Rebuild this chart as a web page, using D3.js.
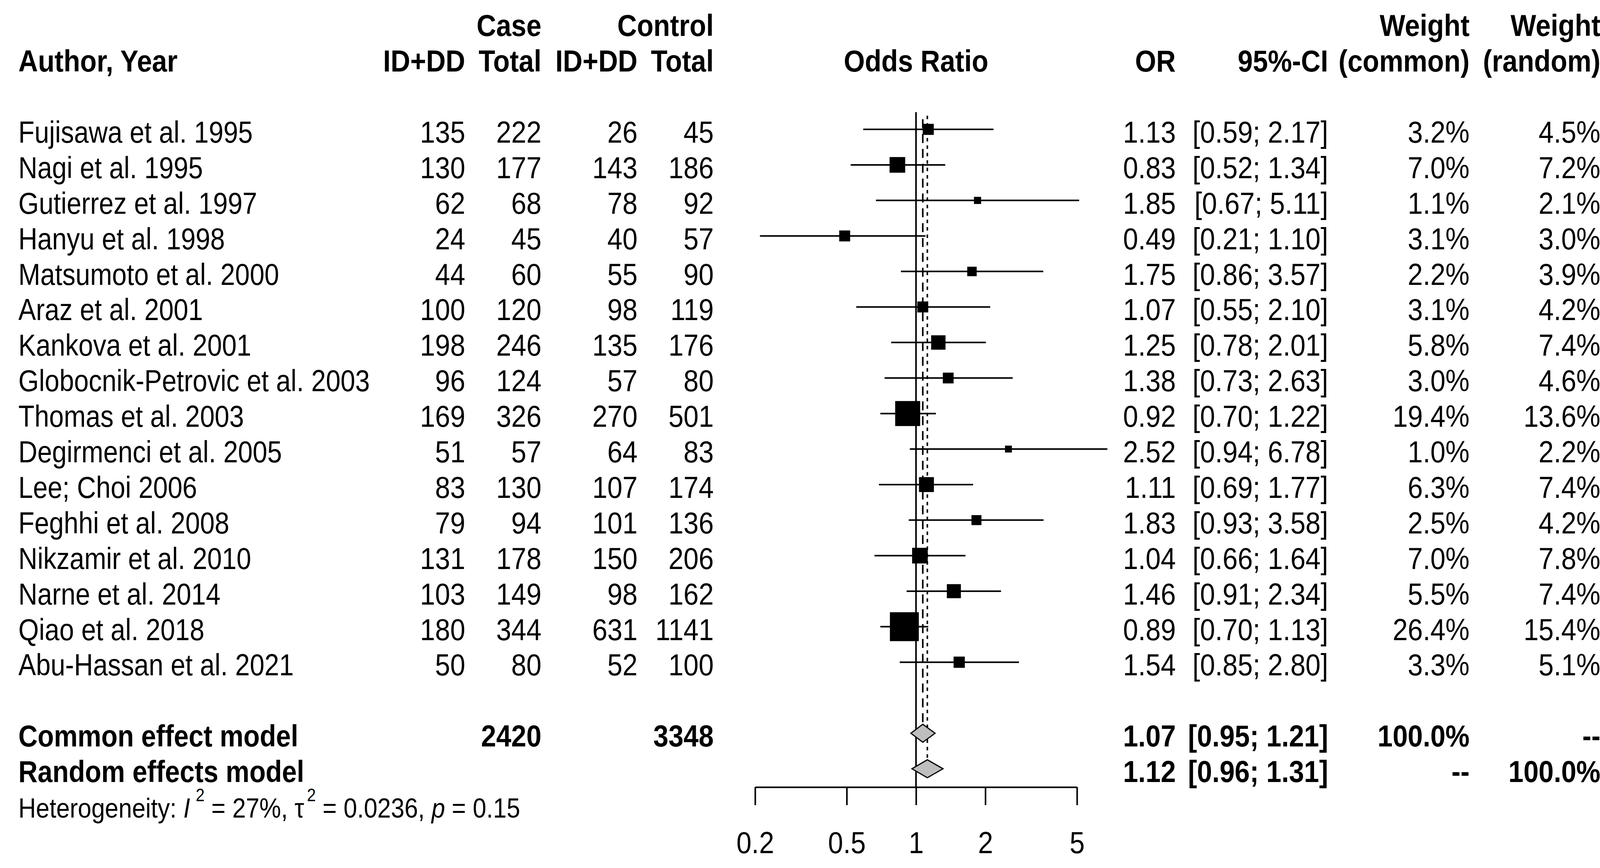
<!DOCTYPE html>
<html>
<head>
  <script src="https://d3js.org/d3.v7.min.js"></script>
  <style>
    body {
  margin: 0;
  background-color: #ffffff;
}

svg {
  display: block;
  background-color: #ffffff;
  font-family: 'Liberation Sans', Arial, sans-serif;
}
  </style>
</head>
<body>

<script>
// Study data.
const studies = ["Fujisawa et al. 1995", "Nagi et al. 1995", "Gutierrez et al. 1997", "Hanyu et al. 1998",
  "Matsumoto et al. 2000", "Araz et al. 2001", "Kankova et al. 2001", "Globocnik-Petrovic et al. 2003",
  "Thomas et al. 2003", "Degirmenci et al. 2005", "Lee; Choi 2006", "Feghhi et al. 2008",
  "Nikzamir et al. 2010", "Narne et al. 2014", "Qiao et al. 2018", "Abu-Hassan et al. 2021"];
const caseEvents = [135, 130, 62, 24, 44, 100, 198, 96, 169, 51, 83, 79, 131, 103, 180, 50];
const caseTotal = [222, 177, 68, 45, 60, 120, 246, 124, 326, 57, 130, 94, 178, 149, 344, 80];
const ctrlEvents = [26, 143, 78, 40, 55, 98, 135, 57, 270, 64, 107, 101, 150, 98, 631, 52];
const ctrlTotal = [45, 186, 92, 57, 90, 119, 176, 80, 501, 83, 174, 136, 206, 162, 1141, 100];
const oddsRatio = [1.13, 0.83, 1.85, 0.49, 1.75, 1.07, 1.25, 1.38, 0.92, 2.52, 1.11, 1.83, 1.04, 1.46, 0.89, 1.54];
const ciLower = [0.59, 0.52, 0.67, 0.21, 0.86, 0.55, 0.78, 0.73, 0.70, 0.94, 0.69, 0.93, 0.66, 0.91, 0.70, 0.85];
const ciUpper = [2.17, 1.34, 5.11, 1.10, 3.57, 2.10, 2.01, 2.63, 1.22, 6.78, 1.77, 3.58, 1.64, 2.34, 1.13, 2.80];
const weightCommon = [3.2, 7.0, 1.1, 3.1, 2.2, 3.1, 5.8, 3.0, 19.4, 1.0, 6.3, 2.5, 7.0, 5.5, 26.4, 3.3];
const weightRandom = [4.5, 7.2, 2.1, 3.0, 3.9, 4.2, 7.4, 4.6, 13.6, 2.2, 7.4, 4.2, 7.8, 7.4, 15.4, 5.1];

// Pooled estimates.
const models = ["Common effect model", "Random effects model"];
const modelOR = [1.07, 1.12];
const modelLower = [0.95, 0.96];
const modelUpper = [1.21, 1.31];
const modelWeightCommon = ["100.0%", "--"];
const modelWeightRandom = ["--", "100.0%"];
const totalCase = 2420;
const totalControl = 3348;
const hetI2 = "27%";
const hetTau2 = "0.0236";
const hetP = "0.15";
const tickValues = [0.2, 0.5, 1, 2, 5];

const width = 4119;
const height = 2221;
const fontSize = 78;
const squeeze = 0.89; // glyphs in the original are a bit narrow

const svg = d3.select("body")
  .append("svg")
  .attr("width", width)
  .attr("height", height);

// Log scale for odds ratios and a row scale.
const x = d3.scaleLog().domain([0.2, 5]).range([1933, 2757]);
const y = d3.scaleLinear().domain([0, 19]).range([331, 2058]);
const box = d3.scaleSqrt().domain([0, d3.max(weightCommon)]).range([0, 70]);
const base = k => y(k) + 34;
const axisY = y(18) + 47;

// column right edges
const col = { caseE: 1191, caseN: 1386, ctrlE: 1632, ctrlN: 1827, or: 3010, ci: 3400, wc: 3762, wr: 4097 };

function label(px, py, str, anchor, bold, size, sx) {
  return svg.append("text")
    .attr("transform", `translate(${px},${py}) scale(${sx || squeeze},1)`)
    .attr("text-anchor", anchor || "end")
    .attr("font-size", size || fontSize)
    .attr("font-weight", bold ? "bold" : null)
    .attr("fill", "#000")
    .text(str);
}

// Header
label(col.caseN, base(-3), "Case", "end", true);
label(col.ctrlN, base(-3), "Control", "end", true);
label(col.wc, base(-3), "Weight", "end", true);
label(col.wr, base(-3), "Weight", "end", true);
label(47, base(-2), "Author, Year", "start", true);
label(col.caseE, base(-2), "ID+DD", "end", true);
label(col.caseN, base(-2), "Total", "end", true);
label(col.ctrlE, base(-2), "ID+DD", "end", true);
label(col.ctrlN, base(-2), "Total", "end", true);
label(x(1), base(-2), "Odds Ratio", "middle", true);
label(col.or, base(-2), "OR", "end", true);
label(col.ci, base(-2), "95%-CI", "end", true);
label(col.wc, base(-2), "(common)", "end", true);
label(col.wr, base(-2), "(random)", "end", true);

// Study rows
studies.forEach((s, i) => {
  label(47, base(i), s, "start", false, fontSize, 0.865);
  label(col.caseE, base(i), caseEvents[i]);
  label(col.caseN, base(i), caseTotal[i]);
  label(col.ctrlE, base(i), ctrlEvents[i]);
  label(col.ctrlN, base(i), ctrlTotal[i]);
  label(col.or, base(i), oddsRatio[i].toFixed(2));
  label(col.ci, base(i), `[${ciLower[i].toFixed(2)}; ${ciUpper[i].toFixed(2)}]`);
  label(col.wc, base(i), weightCommon[i].toFixed(1) + "%");
  label(col.wr, base(i), weightRandom[i].toFixed(1) + "%");
});

// Model rows
models.forEach((m, j) => {
  const k = 17 + j;
  label(47, base(k), m, "start", true, fontSize, 0.875);
  label(col.or, base(k), modelOR[j].toFixed(2), "end", true);
  label(col.ci, base(k), `[${modelLower[j].toFixed(2)}; ${modelUpper[j].toFixed(2)}]`, "end", true);
  label(col.wc, base(k), modelWeightCommon[j], "end", true);
  label(col.wr, base(k), modelWeightRandom[j], "end", true);
});
label(col.caseN, base(17), totalCase, "end", true);
label(col.ctrlN, base(17), totalControl, "end", true);

// Heterogeneity line
const het = svg.append("text")
  .attr("transform", `translate(47,${base(19)}) scale(${squeeze},1)`)
  .attr("font-size", 70)
  .attr("fill", "#000");
het.append("tspan").text("Heterogeneity: ");
het.append("tspan").attr("font-style", "italic").text("I");
het.append("tspan").attr("font-size", 46).attr("dx", 16).attr("dy", -42).text("2");
het.append("tspan").attr("dy", 42).text(` = ${hetI2}, `);
het.append("tspan").text("\u03c4");
het.append("tspan").attr("font-size", 46).attr("dx", 8).attr("dy", -42).text("2");
het.append("tspan").attr("dy", 42).text(` = ${hetTau2}, `);
het.append("tspan").attr("font-style", "italic").text("p");
het.append("tspan").text(` = ${hetP}`);

// Reference lines
svg.append("line")
  .attr("x1", x(1)).attr("x2", x(1))
  .attr("y1", y(0) - 44).attr("y2", axisY)
  .attr("stroke", "#000").attr("stroke-width", 4);
svg.append("line")
  .attr("x1", x(modelOR[0])).attr("x2", x(modelOR[0]))
  .attr("y1", y(0) - 26).attr("y2", y(17) - 22)
  .attr("stroke", "#000").attr("stroke-width", 4)
  .attr("stroke-dasharray", "23,15");
svg.append("line")
  .attr("x1", x(modelOR[1])).attr("x2", x(modelOR[1]))
  .attr("y1", y(0) - 35).attr("y2", y(18) - 23)
  .attr("stroke", "#000").attr("stroke-width", 4)
  .attr("stroke-dasharray", "9,10");

// CI lines and squares
const rows = studies.map((s, i) => ({ i, or: oddsRatio[i], lo: ciLower[i], hi: ciUpper[i], w: weightCommon[i] }));
svg.selectAll(".ci")
  .data(rows)
  .enter()
  .append("line")
  .attr("class", "ci")
  .attr("x1", d => x(d.lo))
  .attr("x2", d => x(d.hi))
  .attr("y1", d => y(d.i))
  .attr("y2", d => y(d.i))
  .attr("stroke", "#000")
  .attr("stroke-width", 4);

svg.selectAll(".box")
  .data(rows)
  .enter()
  .append("rect")
  .attr("class", "box")
  .attr("x", d => x(d.or) - box(d.w) / 2)
  .attr("y", d => y(d.i) - box(d.w) / 2)
  .attr("width", d => box(d.w))
  .attr("height", d => box(d.w))
  .attr("fill", "#000")
  .attr("stroke", "#000")
  .attr("stroke-width", 4);

// Diamonds
models.forEach((m, j) => {
  const cy = y(17 + j);
  const h = 23;
  svg.append("polygon")
    .attr("points", [
      [x(modelLower[j]), cy],
      [x(modelOR[j]), cy - h],
      [x(modelUpper[j]), cy],
      [x(modelOR[j]), cy + h]
    ].map(p => p.join(",")).join(" "))
    .attr("fill", "#bebebe")
    .attr("stroke", "#000")
    .attr("stroke-width", 3);
});

// Axis
const axis = d3.axisBottom(x)
  .tickValues(tickValues)
  .tickFormat(d => String(d))
  .tickSize(46)
  .tickSizeOuter(0);
const ga = svg.append("g")
  .attr("transform", `translate(0,${axisY})`)
  .call(axis)
  .attr("font-size", fontSize)
  .attr("font-family", null);
ga.select(".domain").attr("stroke-width", 4);
ga.selectAll(".tick line").attr("stroke-width", 4);
ga.selectAll(".tick text")
  .attr("y", 169)
  .attr("dy", null)
  .attr("transform", `scale(${squeeze},1)`);
</script>
</body>
</html>
